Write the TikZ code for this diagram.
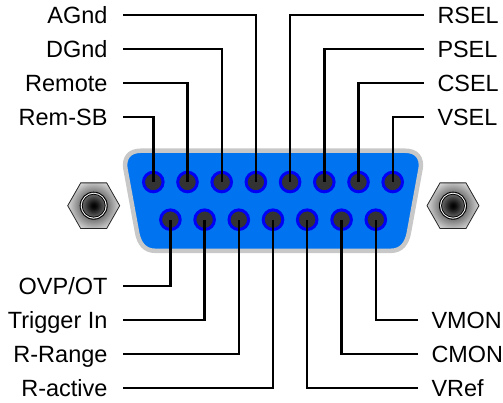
\documentclass[tikz,border=0pt]{standalone}
\usepackage{fontspec}
\setmainfont{Liberation Sans}
\definecolor{shell}{RGB}{200,200,200}
\definecolor{face}{RGB}{0,116,240}
\definecolor{pinring}{RGB}{0,0,245}
\definecolor{pincore}{RGB}{51,51,51}
\pgfdeclareradialshading{hexshade}{\pgfpoint{0bp}{0bp}}{color(0bp)=(black!60); color(12bp)=(black!55); color(25bp)=(black!12); color(50bp)=(black!12)}
\pgfdeclareradialshading{coreshade}{\pgfpoint{0bp}{0bp}}{color(0bp)=(black); color(6bp)=(black!95); color(25bp)=(black!60); color(50bp)=(black!60)}
\tikzset{
  pinnode/.style={circle,draw=pinring,fill=pincore,line width=3pt,minimum size=19.6pt,inner sep=0pt},
  leftlabel/.style={anchor=east,font=\fontsize{23.5}{28}\selectfont,text height=16.8pt,text depth=0pt,inner ysep=0pt,inner xsep=15.5pt,outer sep=0pt},
  rightlabel/.style={anchor=west,font=\fontsize{23.4}{28}\selectfont,text height=16.8pt,text depth=0pt,inner ysep=0pt,inner xsep=13.5pt,outer sep=0pt},
  wire/.style={draw=black,line width=2.4pt,line cap=butt},
  hexline/.style={draw=black!85,line width=0.8pt,line join=miter}
}
\begin{document}
\begin{tikzpicture}[x=1pt,y=-1pt]
\useasboundingbox (0,0) rectangle (503,403);
% connector shell
\path[draw=shell,fill=face,line width=4.5pt]
  (141,150.7) -- (405,150.7) .. controls (417,150.7) and (422,158) .. (420.7,168)
  -- (409,232) .. controls (407,244) and (401,250.8) .. (391,250.8)
  -- (155,250.8) .. controls (145,250.8) and (139,244) .. (137,232)
  -- (125.3,168) .. controls (124,158) and (129,150.7) .. (141,150.7) -- cycle;
% hex standoffs
\foreach \cx in {93.7,453}{
  \begin{scope}[shift={(\cx,205.7)}]
    \begin{scope}
      \clip (-26,0) -- (-13,-22.8) -- (13,-22.8) -- (26,0) -- (13,22.8) -- (-13,22.8) -- cycle;
      \shade[shading=hexshade] (0,0) circle (27);
    \end{scope}
    \draw[hexline] (-26,0) -- (-13,-22.8) -- (13,-22.8) -- (26,0) -- (13,22.8) -- (-13,22.8) -- cycle;
    \shade[shading=coreshade] (0,0) circle (11.5);
    \draw[black,line width=0.8pt] (0,0) circle (11.5);
    \draw[white,line width=0.7pt] (0,0) circle (12.5);
    \draw[black,line width=0.8pt] (0,0) circle (13.6);
  \end{scope}
}
% pins
\foreach \n/\x in {t1/153.3,t2/187.5,t3/221.7,t4/255.9,t5/290.1,t6/324.3,t7/358.5,t8/392.7}
  \node[pinnode] (\n) at (\x,182) {};
\foreach \n/\x in {b1/170.4,b2/204.6,b3/238.8,b4/273,b5/307.2,b6/341.6,b7/375.8}
  \node[pinnode] (\n) at (\x,219.7) {};
% left labels
\node[leftlabel] (agnd) at (123,15) {AGnd};
\node[leftlabel] (dgnd) at (123,49) {DGnd};
\node[leftlabel] (remote) at (123,83) {Remote};
\node[leftlabel] (remsb) at (123,117) {Rem-SB};
\node[leftlabel] (ovp) at (123,286) {OVP/OT};
\node[leftlabel] (trig) at (123,320) {Trigger In};
\node[leftlabel] (rrange) at (123,354) {R-Range};
\node[leftlabel] (ractive) at (123,388) {R-active};
% right labels
\node[rightlabel] (rsel) at (424,15) {RSEL};
\node[rightlabel] (psel) at (424,49) {PSEL};
\node[rightlabel] (csel) at (424,83) {CSEL};
\node[rightlabel] (vsel) at (424,117) {VSEL};
\node[rightlabel] (vmon) at (418,320) {VMON};
\node[rightlabel] (cmon) at (418,354) {CMON};
\node[rightlabel] (vref) at (418,388) {VRef};
% wires
\path[wire] (remsb.east) -| (t1.center);
\path[wire] (remote.east) -| (t2.center);
\path[wire] (dgnd.east) -| (t3.center);
\path[wire] (agnd.east) -| (t4.center);
\path[wire] (rsel.west) -| (t5.center);
\path[wire] (psel.west) -| (t6.center);
\path[wire] (csel.west) -| (t7.center);
\path[wire] (vsel.west) -| (t8.center);
\path[wire] (ovp.east) -| (b1.center);
\path[wire] (trig.east) -| (b2.center);
\path[wire] (rrange.east) -| (b3.center);
\path[wire] (ractive.east) -| (b4.center);
\path[wire] (vref.west) -| (b5.center);
\path[wire] (cmon.west) -| (b6.center);
\path[wire] (vmon.west) -| (b7.center);
\end{tikzpicture}
\end{document}
